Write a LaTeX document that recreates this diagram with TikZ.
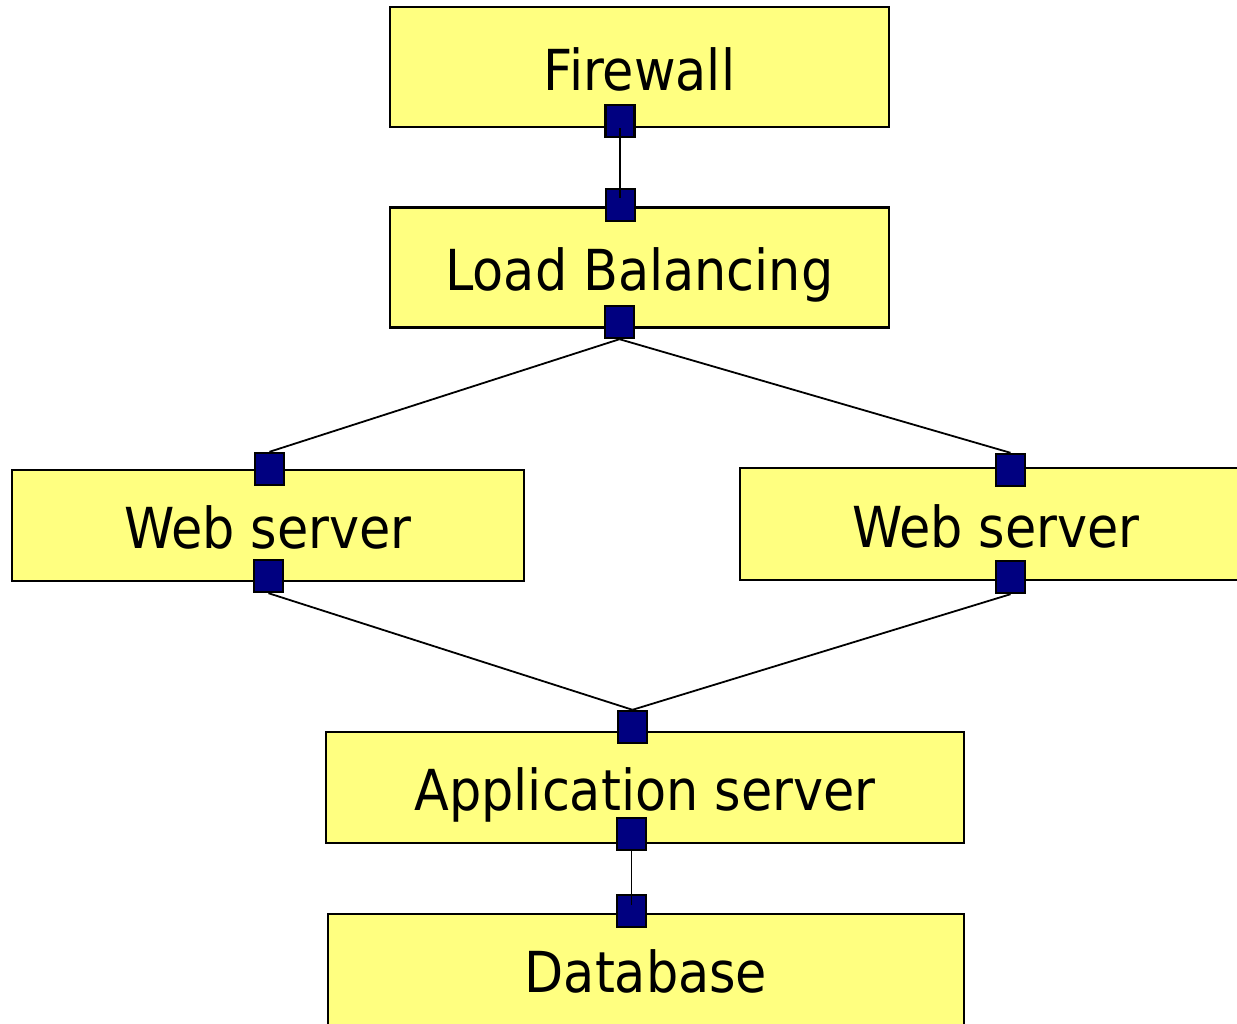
\documentclass[tikz,border=0pt]{standalone}
\usepackage{fontspec}
\setmainfont{DejaVu Sans Condensed}
\usetikzlibrary{calc}
\definecolor{boxfill}{RGB}{255,255,128}
\definecolor{portfill}{RGB}{0,0,128}
\tikzset{
  tier/.style={draw=black, fill=boxfill, line width=2.4pt, rectangle, inner sep=0pt,
    minimum height=#1, font=\fontsize{56.5}{60}\selectfont, text height=46pt, text depth=0pt},
  tier/.default=120pt,
  port/.style={draw=black, fill=portfill, line width=2.4pt, rectangle, inner sep=0pt,
    minimum width=29pt, minimum height=32pt},
  link/.style={draw=black, line width=1.8pt}
}
\begin{document}
\begin{tikzpicture}[x=1pt, y=-1pt]
  \useasboundingbox (0,0) rectangle (1237,1023);
  \clip (0,0) rectangle (1237,1023);

  % tiers
  \node[tier, minimum width=499pt] (fw) at (639.5,67) {Firewall};
  \node[tier, minimum width=499pt] (lb) at (639.5,267.5) {Load Balancing};
  \node[tier=111pt, minimum width=512pt] (wsL) at (268,525.5) {Web server};
  \node[tier=112pt, minimum width=512pt] (wsR) at (996,524) {Web server};
  \node[tier=111pt, minimum width=638pt] (app) at (645,787.5) {Application server};
  \node[tier=111pt, minimum width=636pt] (db) at (646,969.5) {Database};

  % connection ports
  \node[port] (fwB) at (620,121) {};
  \node[port] (lbT) at (620.5,205) {};
  \node[port] (lbB) at (619.5,322) {};
  \node[port] (wsLT) at (269.5,469) {};
  \node[port] (wsLB) at (268.5,576) {};
  \node[port] (wsRT) at (1010.5,470) {};
  \node[port] (wsRB) at (1010.5,577) {};
  \node[port] (appT) at (632.5,727) {};
  \node[port] (appB) at (631.5,834) {};
  \node[port] (dbT) at (631.5,911) {};

  % links between tiers
  \draw[link] ($(fwB.center)+(0,7)$) -- ($(lbT.center)+(-0.5,-7)$);
  \draw[link] (lbB.south) -- (wsLT.north);
  \draw[link] (lbB.south) -- (wsRT.north);
  \draw[link] (wsLB.south) -- (appT.north);
  \draw[link] (wsRB.south) -- (appT.north);
  \draw[link] (appB.south) -- ($(dbT.center)+(0,-6)$);
\end{tikzpicture}
\end{document}
